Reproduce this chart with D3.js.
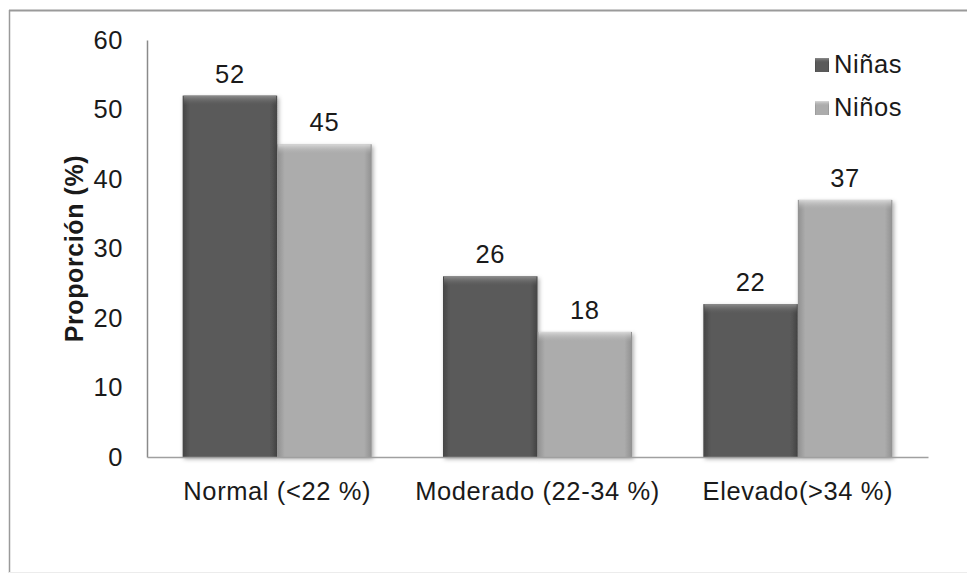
<!DOCTYPE html>
<html>
<head>
<meta charset="utf-8">
<script src="https://cdn.jsdelivr.net/npm/d3@7"></script>
<style>
  html, body { margin: 0; padding: 0; background: #fff; }
  svg { display: block; font-family: "Liberation Sans", Arial, sans-serif; }
  svg text { letter-spacing: 0.6px; }
</style>
</head>
<body>
<svg id="chart" width="967" height="581"></svg>
<script>
// Data
const categories = ["Normal (<22 %)", "Moderado (22-34 %)", "Elevado(>34 %)"];
const seriesNames = ["Niñas", "Niños"];
const ninas = [52, 26, 22];
const ninos = [45, 18, 37];
const yTicks = [0, 10, 20, 30, 40, 50, 60];

const seriesValues = [ninas, ninos];
const rows = categories.map((c, i) => ({
  category: c,
  values: seriesNames.map((s, j) => ({ series: s, idx: j, value: seriesValues[j][i] }))
}));

const svg = d3.select("#chart");
const W = 967, H = 581;
const plot = { left: 147, right: 928, top: 40, bottom: 457 };
const FS = 25.5;

// Frame around the chart area
svg.append("line").attr("x1", 9).attr("x2", W).attr("y1", 10.5).attr("y2", 10.5)
  .attr("stroke", "#9a9a9a").attr("stroke-width", 2);
svg.append("line").attr("x1", 9.5).attr("x2", 9.5).attr("y1", 10).attr("y2", 573)
  .attr("stroke", "#9a9a9a").attr("stroke-width", 1.5);
svg.append("line").attr("x1", 9).attr("x2", W).attr("y1", 572.5).attr("y2", 572.5)
  .attr("stroke", "#ececec").attr("stroke-width", 1);

// Scales
const x0 = d3.scaleBand().domain(categories)
  .range([plot.left, plot.right]).paddingInner(0.274).paddingOuter(0.137);
const x1 = d3.scaleBand().domain(seriesNames).range([0, x0.bandwidth()]).padding(0);
const y = d3.scaleLinear().domain([0, 60]).range([plot.bottom, plot.top]);

// Gradients for the bevelled bars
const defs = svg.append("defs");
const palettes = [
  { edge: "#444444", mid: "#5a5a5a", top: "#909090" },
  { edge: "#909090", mid: "#acacac", top: "#dcdcdc" }
];
palettes.forEach((p, i) => {
  const h = defs.append("linearGradient").attr("id", "side" + i)
    .attr("x1", 0).attr("x2", 1).attr("y1", 0).attr("y2", 0);
  h.append("stop").attr("offset", "0%").attr("stop-color", p.edge);
  h.append("stop").attr("offset", "8%").attr("stop-color", p.mid);
  h.append("stop").attr("offset", "92%").attr("stop-color", p.mid);
  h.append("stop").attr("offset", "100%").attr("stop-color", p.edge);
  const v = defs.append("linearGradient").attr("id", "cap" + i)
    .attr("x1", 0).attr("x2", 0).attr("y1", 0).attr("y2", 1);
  v.append("stop").attr("offset", "0%").attr("stop-color", p.top).attr("stop-opacity", 0.95);
  v.append("stop").attr("offset", "100%").attr("stop-color", p.mid).attr("stop-opacity", 0);
});
const shadow = defs.append("filter").attr("id", "shadow")
  .attr("x", "-10%").attr("y", "-10%").attr("width", "125%").attr("height", "125%");
shadow.append("feDropShadow").attr("dx", 1.5).attr("dy", 2).attr("stdDeviation", 2)
  .attr("flood-color", "#000").attr("flood-opacity", 0.35);

// Y axis
const yAxis = d3.axisLeft(y).tickValues(yTicks).tickSize(0).tickPadding(24)
  .tickFormat(d3.format("d"));
const gy = svg.append("g").attr("transform", `translate(${plot.left},0)`).call(yAxis);
gy.select(".domain").attr("stroke", "#8a8a8a").attr("stroke-width", 1.5);
gy.selectAll("text").attr("font-size", FS).attr("fill", "#1a1a1a")
  .attr("font-family", "Liberation Sans, Arial, sans-serif");

// Bars
const groups = svg.append("g").selectAll("g").data(rows).join("g")
  .attr("transform", d => `translate(${x0(d.category)},0)`);

const bars = groups.selectAll("g.bar").data(d => d.values).join("g").attr("class", "bar");
bars.append("rect")
  .attr("x", d => x1(d.series)).attr("width", x1.bandwidth())
  .attr("y", d => y(d.value)).attr("height", d => y(0) - y(d.value))
  .attr("fill", d => `url(#side${d.idx})`)
  .attr("filter", "url(#shadow)");
bars.append("rect")
  .attr("x", d => x1(d.series) + 1).attr("width", x1.bandwidth() - 2)
  .attr("y", d => y(d.value)).attr("height", 10)
  .attr("fill", d => `url(#cap${d.idx})`);

// Value labels
bars.append("text")
  .attr("x", d => x1(d.series) + x1.bandwidth() / 2)
  .attr("y", d => y(d.value) - 13)
  .attr("text-anchor", "middle")
  .attr("font-size", FS).attr("fill", "#1a1a1a")
  .text(d => d.value);

// X axis
const xAxis = d3.axisBottom(x0).tickSize(0).tickPadding(25);
const gx = svg.append("g").attr("transform", `translate(0,${plot.bottom})`).call(xAxis);
gx.select(".domain").attr("stroke", "#a0a0a0").attr("stroke-width", 1.5);
gx.selectAll("text").attr("font-size", FS).attr("fill", "#1a1a1a")
  .attr("font-family", "Liberation Sans, Arial, sans-serif");

// Y axis title
svg.append("text")
  .attr("transform", `translate(83,${(plot.top + plot.bottom) / 2}) rotate(-90)`)
  .attr("text-anchor", "middle").attr("font-weight", "bold")
  .attr("font-size", 25).attr("fill", "#1a1a1a")
  .text("Proporción (%)");

// Legend
const legend = svg.append("g").attr("transform", "translate(815,58)");
const li = legend.selectAll("g").data(seriesNames).join("g")
  .attr("transform", (d, i) => `translate(0,${i * 43})`);
li.append("rect").attr("width", 14).attr("height", 14)
  .attr("fill", (d, i) => `url(#side${i})`);
li.append("rect").attr("width", 14).attr("height", 5)
  .attr("fill", (d, i) => `url(#cap${i})`);
li.append("text").attr("x", 19).attr("y", 15)
  .attr("font-size", FS).attr("fill", "#1a1a1a").text(d => d);
</script>
</body>
</html>
